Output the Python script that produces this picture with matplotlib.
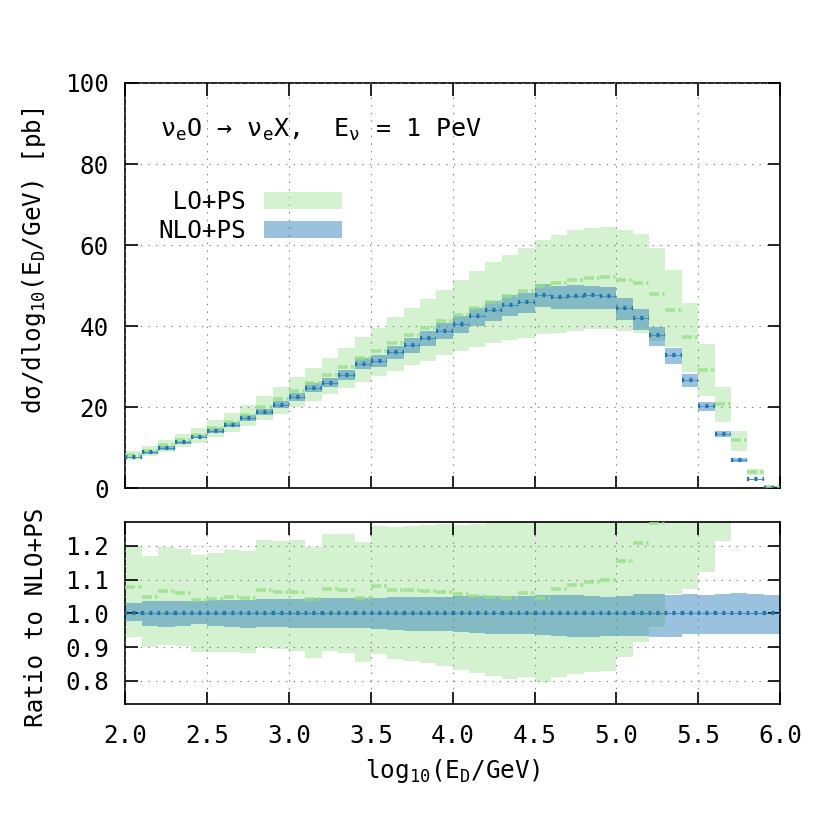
import numpy as np
import matplotlib.pyplot as plt
from matplotlib.patches import Patch
from matplotlib.ticker import FormatStrFormatter

plt.rcParams['font.family'] = ['DejaVu Sans Mono', 'DejaVu Sans']
plt.rcParams['font.size'] = 17.5
plt.rcParams['mathtext.default'] = 'regular'
plt.rcParams['lines.scale_dashes'] = False

# 40 bins in log10(E_D/GeV)
edges = np.linspace(2.0, 6.0, 41)

# NLO+PS central value [pb]
nlo = [7.6, 8.9, 9.95, 11.3, 12.7, 14.2, 15.7, 17.4, 18.8, 20.6,
       22.5, 24.8, 26.1, 28.0, 30.7, 31.4, 33.6, 35.3, 37.0, 38.8,
       40.6, 42.4, 43.9, 45.3, 45.9, 47.8, 47.3, 47.5, 47.6, 47.4,
       44.6, 41.9, 37.8, 32.9, 26.7, 20.3, 13.4, 7.0, 2.2, 0.15]

# NLO+PS scale band, ratio to NLO central
nlo_dn = [0.977, 0.963, 0.960, 0.962, 0.968, 0.963, 0.960, 0.957, 0.958, 0.958,
          0.955, 0.955, 0.955, 0.955, 0.955, 0.953, 0.950, 0.948, 0.947, 0.947,
          0.945, 0.943, 0.940, 0.938, 0.940, 0.935, 0.934, 0.931, 0.929, 0.933,
          0.933, 0.934, 0.931, 0.931, 0.938, 0.938, 0.939, 0.938, 0.940, 0.938]
nlo_up = [1.032, 1.037, 1.037, 1.037, 1.037, 1.039, 1.041, 1.041, 1.043, 1.043,
          1.043, 1.045, 1.045, 1.045, 1.045, 1.046, 1.047, 1.048, 1.048, 1.049,
          1.050, 1.050, 1.051, 1.052, 1.052, 1.053, 1.054, 1.054, 1.051, 1.049,
          1.050, 1.056, 1.056, 1.054, 1.057, 1.054, 1.057, 1.059, 1.058, 1.054]

# LO+PS central and band, ratio to NLO central
lo_c = [1.077, 1.047, 1.066, 1.059, 1.040, 1.042, 1.049, 1.046, 1.069, 1.064,
        1.064, 1.043, 1.073, 1.069, 1.045, 1.081, 1.069, 1.069, 1.066, 1.064,
        1.056, 1.052, 1.049, 1.046, 1.059, 1.045, 1.072, 1.084, 1.092, 1.098,
        1.155, 1.210, 1.267, 1.34, 1.40, 1.44, 1.55, 1.70, 1.82, 2.8]
lo_dn = [0.929, 0.901, 0.906, 0.904, 0.886, 0.886, 0.886, 0.883, 0.896, 0.893,
         0.888, 0.866, 0.889, 0.881, 0.857, 0.879, 0.864, 0.860, 0.852, 0.845,
         0.832, 0.822, 0.814, 0.805, 0.810, 0.795, 0.810, 0.819, 0.825, 0.829,
         0.871, 0.914, 0.960, 1.057, 1.072, 1.122, 1.215, 1.33, 1.50, 1.6]
lo_up = [1.201, 1.170, 1.196, 1.191, 1.172, 1.178, 1.188, 1.186, 1.217, 1.215,
         1.218, 1.197, 1.235, 1.235, 1.213, 1.260, 1.255, 1.258, 1.261, 1.264,
         1.263, 1.266, 1.27, 1.27, 1.29, 1.28, 1.32, 1.34, 1.35, 1.36,
         1.43, 1.50, 1.57, 1.64, 1.71, 1.75, 1.86, 2.03, 2.14, 5.0]

nlo = np.array(nlo)
ones = np.ones_like(nlo)

c_lo = '#98df8a'
c_nlo = '#1f77b4'
ls_lo = (0, (7.2, 2.2, 1.8, 0.55))
ls_nlo = (0.6, (2.2, 3.7))


def band(ax, dn, up, color, alpha):
    dn = np.asarray(dn)
    up = np.asarray(up)
    ax.fill_between(edges, np.append(dn, dn[-1]), np.append(up, up[-1]),
                    step='post', color=color, alpha=alpha, lw=0, zorder=1)


def central(ax, vals, color, ls, lw, alpha=1.0):
    ax.hlines(vals, edges[:-1], edges[1:], colors=color, linestyles=[ls],
              lw=lw, alpha=alpha, zorder=3)


fig = plt.figure(figsize=(8.3, 8.3), dpi=100)
ax1 = fig.add_axes([0.1512, 0.4117, 0.7886, 0.4883])
ax2 = fig.add_axes([0.1512, 0.1514, 0.7886, 0.2193])

# main panel
band(ax1, nlo * np.array(lo_dn), nlo * np.array(lo_up), c_lo, 0.4)
band(ax1, nlo * np.array(nlo_dn), nlo * np.array(nlo_up), c_nlo, 0.45)
central(ax1, nlo * np.array(lo_c), c_lo, ls_lo, 2.6, 0.8)
central(ax1, nlo, c_nlo, (0, (10, 0)), 0.6, 0.7)
central(ax1, nlo, c_nlo, ls_nlo, 3.0)

# ratio panel
band(ax2, lo_dn, lo_up, c_lo, 0.4)
band(ax2, nlo_dn, nlo_up, c_nlo, 0.45)
central(ax2, lo_c, c_lo, ls_lo, 2.6, 0.8)
central(ax2, ones, c_nlo, (0, (10, 0)), 0.6, 0.7)
central(ax2, ones, c_nlo, ls_nlo, 3.0)

for ax in (ax1, ax2):
    ax.set_xlim(2.0, 6.0)
    ax.set_xticks(np.arange(2.0, 6.01, 0.5))
    ax.xaxis.set_major_formatter(FormatStrFormatter('%.1f'))
    ax.set_axisbelow(False)
    ax.grid(True, color='0.5', lw=0.8, ls=(0, (1, 4.5)))
    ax.tick_params(direction='in', length=9, width=1.2, top=True, right=True)
    ax.tick_params(axis='y', pad=12)
    ax.tick_params(axis='x', pad=14)
    for s in ax.spines.values():
        s.set_linewidth(1.2)

ax1.set_ylim(0, 100)
ax1.set_yticks(np.arange(0, 101, 20))
ax1.tick_params(labelbottom=False)
ax1.set_ylabel('dσ/dlog$_{10}$(E$_D$/GeV) [pb]')
ax1.yaxis.set_label_coords(-0.118, 0.56)

ax2.set_ylim(0.73, 1.27)
ax2.set_yticks([0.8, 0.9, 1.0, 1.1, 1.2])
ax2.yaxis.set_major_formatter(FormatStrFormatter('%.1f'))
ax2.set_ylabel('Ratio to NLO+PS')
ax2.yaxis.set_label_coords(-0.118, 0.48)
ax2.set_xlabel('log$_{10}$(E$_D$/GeV)')
ax2.xaxis.set_label_coords(0.5, -0.29)

ax1.text(2.21, 88.5, 'ν$_e$O → ν$_e$X,  E$_ν$ = 1 PeV', va='center', ha='left',
         fontsize=18)

handles = [Patch(facecolor=c_lo, alpha=0.4, lw=0), Patch(facecolor=c_nlo, alpha=0.45, lw=0)]
ax1.legend(handles, [' LO+PS', 'NLO+PS'], loc='upper left', bbox_to_anchor=(0.05, 0.735),
           markerfirst=False, frameon=False, borderpad=0, borderaxespad=0,
           handlelength=3.2, handleheight=0.7, handletextpad=0.75, labelspacing=0.2)

fig.savefig('out.png', dpi=100)
